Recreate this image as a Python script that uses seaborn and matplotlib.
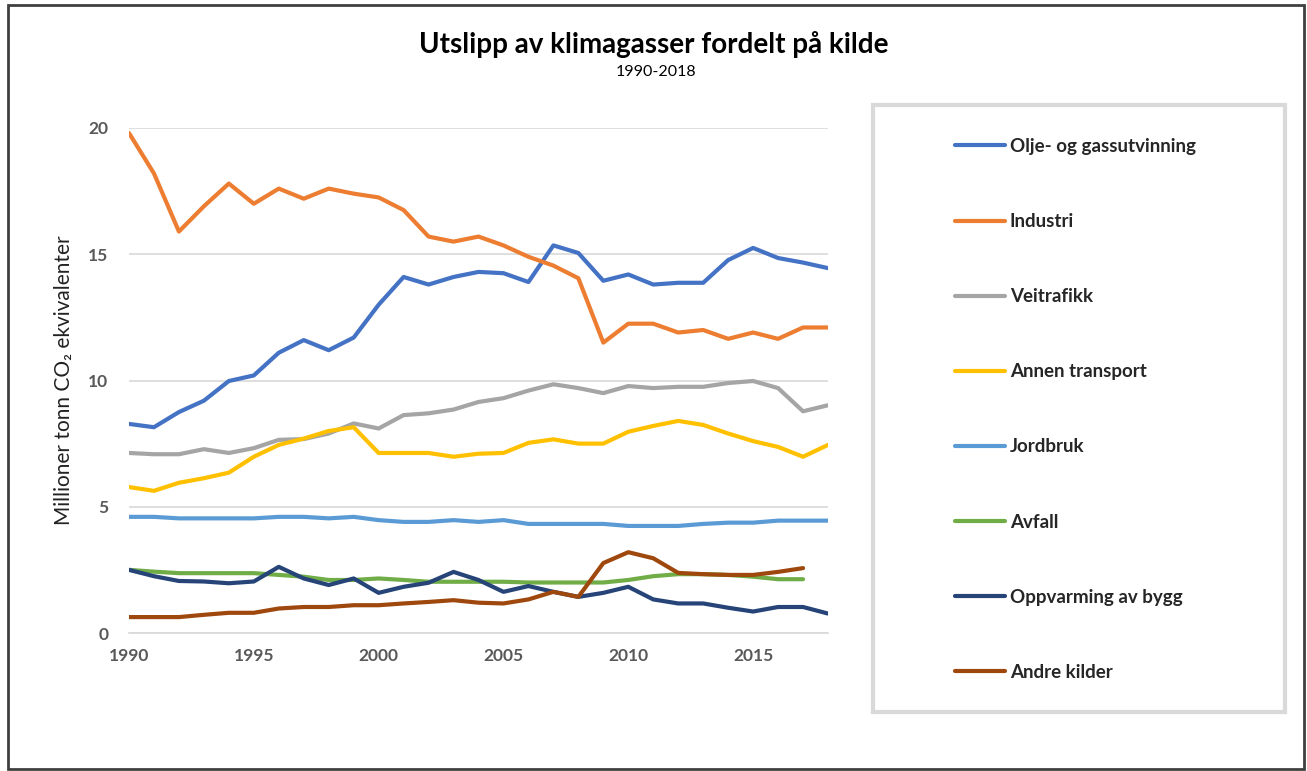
import numpy as np
import pandas as pd
import matplotlib
matplotlib.use("Agg")
import matplotlib.pyplot as plt
from matplotlib.patches import Rectangle
import seaborn as sns

years = list(range(1990, 2019))

olje_gass = [8.28, 8.15, 8.75, 9.2, 9.98, 10.2, 11.1, 11.6, 11.2, 11.7,
             13.0, 14.1, 13.8, 14.1, 14.3, 14.25, 13.9, 15.35, 15.05, 13.95,
             14.2, 13.8, 13.87, 13.87, 14.77, 15.25, 14.85, 14.67, 14.45]
industri = [19.8, 18.2, 15.9, 16.9, 17.8, 17.0, 17.6, 17.2, 17.6, 17.4,
            17.25, 16.75, 15.7, 15.5, 15.7, 15.35, 14.9, 14.55, 14.05, 11.5,
            12.25, 12.25, 11.9, 12.0, 11.65, 11.9, 11.65, 12.1, 12.1]
veitrafikk = [7.13, 7.08, 7.08, 7.28, 7.13, 7.32, 7.65, 7.68, 7.9, 8.3,
              8.1, 8.63, 8.7, 8.85, 9.15, 9.3, 9.6, 9.85, 9.7, 9.5,
              9.78, 9.7, 9.75, 9.75, 9.9, 9.98, 9.7, 8.78, 9.02]
annen_transport = [5.78, 5.63, 5.95, 6.13, 6.35, 6.98, 7.45, 7.7, 8.0, 8.15,
                   7.13, 7.13, 7.13, 6.98, 7.1, 7.13, 7.53, 7.67, 7.5, 7.5,
                   7.97, 8.2, 8.4, 8.24, 7.9, 7.6, 7.37, 6.98, 7.45]
jordbruk = [4.6, 4.6, 4.54, 4.54, 4.54, 4.54, 4.6, 4.6, 4.54, 4.6,
            4.47, 4.4, 4.4, 4.47, 4.4, 4.47, 4.32, 4.32, 4.32, 4.32,
            4.24, 4.24, 4.24, 4.32, 4.37, 4.37, 4.45, 4.45, 4.45]
avfall = [2.5, 2.43, 2.37, 2.37, 2.37, 2.37, 2.3, 2.23, 2.1, 2.1,
          2.16, 2.1, 2.03, 2.03, 2.03, 2.03, 2.0, 2.0, 2.0, 2.0,
          2.1, 2.25, 2.33, 2.33, 2.3, 2.23, 2.13, 2.13, np.nan]
oppvarming = [2.5, 2.25, 2.06, 2.04, 1.97, 2.04, 2.62, 2.16, 1.9, 2.16,
              1.59, 1.83, 1.99, 2.42, 2.1, 1.63, 1.86, 1.63, 1.43, 1.59,
              1.83, 1.33, 1.17, 1.17, 1.0, 0.85, 1.03, 1.03, 0.77]
andre_kilder = [0.63, 0.63, 0.63, 0.72, 0.8, 0.8, 0.97, 1.03, 1.03, 1.1,
                1.1, 1.17, 1.23, 1.3, 1.2, 1.17, 1.33, 1.63, 1.43, 2.77,
                3.2, 2.96, 2.38, 2.33, 2.3, 2.3, 2.42, 2.57, np.nan]

kilder = ["Olje- og gassutvinning", "Industri", "Veitrafikk", "Annen transport",
          "Jordbruk", "Avfall", "Oppvarming av bygg", "Andre kilder"]
farger = ["#4472C4", "#ED7D31", "#A5A5A5", "#FFC000",
          "#5B9BD5", "#70AD47", "#264478", "#9E480E"]

serier = [olje_gass, industri, veitrafikk, annen_transport,
          jordbruk, avfall, oppvarming, andre_kilder]

df = pd.concat(
    [pd.DataFrame({"År": years, "Utslipp": s, "Kilde": k}) for k, s in zip(kilder, serier)],
    ignore_index=True,
).dropna()

sns.set_style("white")
plt.rcParams["font.family"] = ["Lato", "DejaVu Sans"]

fig = plt.figure(figsize=(13.07, 7.71), dpi=100)
ax = fig.add_axes([129 / 1307, 1 - 633 / 771, (828 - 129) / 1307, (633 - 128) / 771])

sns.lineplot(data=df, x="År", y="Utslipp", hue="Kilde", hue_order=kilder,
             palette=farger, linewidth=3, ax=ax, legend=True)

ax.set_xlim(1990, 2018)
ax.set_ylim(0, 20)
ax.set_xticks([1990, 1995, 2000, 2005, 2010, 2015])
ax.set_yticks([0, 5, 10, 15, 20])
ax.yaxis.grid(True, color="#D9D9D9", linewidth=1.2)
ax.set_axisbelow(True)
for side in ["top", "right", "left"]:
    ax.spines[side].set_visible(False)
ax.spines["bottom"].set_color("#D9D9D9")
ax.spines["bottom"].set_linewidth(1.2)
ax.tick_params(axis="x", direction="out", length=6, width=1.2, color="#D9D9D9",
               labelsize=12.5, labelcolor="#595959", pad=5)
ax.tick_params(axis="y", length=0, labelsize=12.5, labelcolor="#595959", pad=15)
for lab in ax.get_xticklabels() + ax.get_yticklabels():
    lab.set_fontweight("bold")
ax.set_xlabel("")
ax.set_ylabel("Millioner tonn CO₂ ekvivalenter", fontsize=15, color="#222222", labelpad=10)

# legend in a separate grey box
handles, labels = ax.get_legend_handles_labels()
ax.get_legend().remove()
fig.patches.append(Rectangle((873 / 1307, 1 - 712 / 771), (1285 - 873) / 1307, (712 - 105) / 771,
                             transform=fig.transFigure, fill=False,
                             edgecolor="#D9D9D9", linewidth=3))
leg = fig.legend(handles, labels, loc="upper left", bbox_to_anchor=(955 / 1307, 1 - 138 / 771),
                 frameon=False, fontsize=13.5, handlelength=2.65, handletextpad=0.27,
                 labelspacing=3.1, borderpad=0, borderaxespad=0)
for t in leg.get_texts():
    t.set_fontweight("bold")
for h in leg.get_lines():
    h.set_linewidth(3)

fig.text(654 / 1307, 1 - 45 / 771, "Utslipp av klimagasser fordelt på kilde",
         ha="center", va="center", fontsize=20, fontweight="bold", color="black")
fig.text(656 / 1307, 1 - 72 / 771, "1990-2018", ha="center", va="center",
         fontsize=11.5, color="black")

# outer frame
fig.patches.append(Rectangle((8 / 1307, 2 / 771), (1304 - 8) / 1307, (766 - 2) / 771,
                             transform=fig.transFigure, fill=False,
                             edgecolor="#404040", linewidth=2))

fig.savefig("out.png", dpi=100)
